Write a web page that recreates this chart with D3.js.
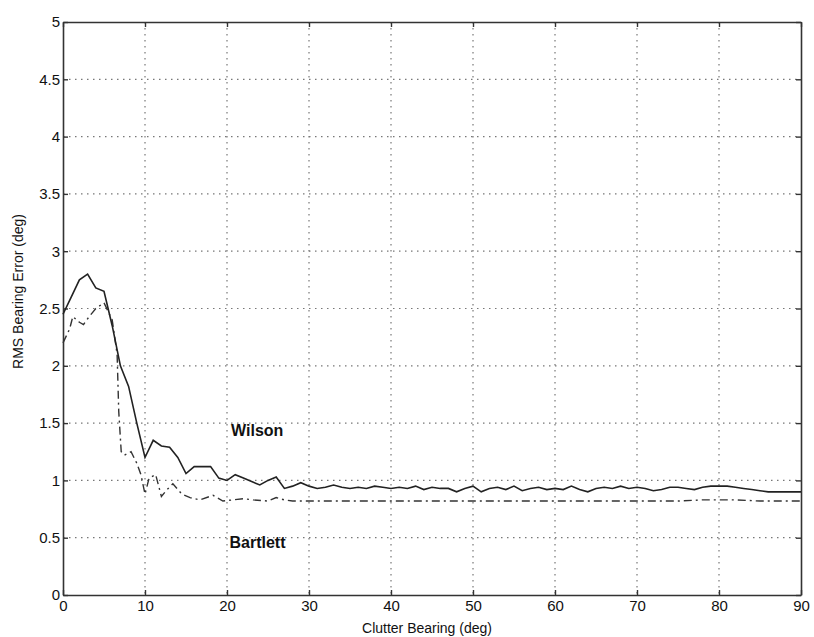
<!DOCTYPE html>
<html>
<head>
<meta charset="utf-8">
<script src="https://cdn.jsdelivr.net/npm/d3@7"></script>
<style>
  body { margin: 0; background: #fff; }
  #chart { width: 814px; height: 637px; }
  text { font-family: "Liberation Sans", Arial, sans-serif; fill: #111; }
</style>
</head>
<body>
<div id="chart"></div>
<script>
// values
const xTicks = [0, 10, 20, 30, 40, 50, 60, 70, 80, 90];
const yTicks = [0, 0.5, 1, 1.5, 2, 2.5, 3, 3.5, 4, 4.5, 5];

const wilsonBearing = [0, 1, 2, 3, 4, 5, 6, 7, 8, 9, 10, 11, 12, 13, 14, 15, 16, 17, 18, 19,
  20, 21, 22, 23, 24, 25, 26, 27, 28, 29, 30, 31, 32, 33, 34, 35, 36, 37, 38, 39,
  40, 41, 42, 43, 44, 45, 46, 47, 48, 49, 50, 51, 52, 53, 54, 55, 56, 57, 58, 59,
  60, 61, 62, 63, 64, 65, 66, 67, 68, 69, 70, 71, 72, 73, 74, 75, 76, 77, 78, 79,
  80, 81, 82, 83, 84, 85, 86, 87, 88, 89, 90];
const wilsonError = [2.45, 2.6, 2.75, 2.8, 2.68, 2.65, 2.35, 2.0, 1.82, 1.5,
  1.2, 1.35, 1.3, 1.29, 1.2, 1.06, 1.12, 1.12, 1.12, 1.02,
  1.0, 1.05, 1.02, 0.99, 0.96, 1.0, 1.03, 0.93, 0.95, 0.98,
  0.95, 0.93, 0.94, 0.96, 0.94, 0.93, 0.94, 0.93, 0.95, 0.94,
  0.93, 0.94, 0.93, 0.95, 0.92, 0.94, 0.93, 0.93, 0.9, 0.93,
  0.95, 0.9, 0.93, 0.94, 0.92, 0.95, 0.91, 0.93, 0.94, 0.92,
  0.93, 0.92, 0.95, 0.92, 0.9, 0.93, 0.94, 0.93, 0.95, 0.93,
  0.94, 0.93, 0.91, 0.92, 0.94, 0.94, 0.93, 0.92, 0.94, 0.95,
  0.95, 0.95, 0.94, 0.93, 0.92, 0.91, 0.9, 0.9, 0.9, 0.9, 0.9];

const bartlettBearing = [0, 0.8, 1.2, 2, 2.5, 3.2, 4, 5, 6, 6.6, 6.8, 7.1, 7.5, 8.3, 9, 9.5,
  10, 10.5, 11.3, 12, 12.7, 13.4, 14.5, 15.5, 16.7, 18.3, 19.5, 20.7, 22, 23.2, 25, 26, 27, 28,
  30, 35, 40, 45, 50, 55, 60, 65, 70, 75, 78, 80, 82, 85, 90];
const bartlettError = [2.2, 2.32, 2.43, 2.38, 2.36, 2.43, 2.5, 2.55, 2.4, 2.1, 1.6, 1.25, 1.22, 1.25, 1.15, 1.05,
  0.88, 1.02, 1.05, 0.86, 0.92, 0.97, 0.88, 0.85, 0.83, 0.87, 0.82, 0.83, 0.84, 0.83, 0.82, 0.85, 0.83, 0.82,
  0.82, 0.82, 0.82, 0.82, 0.82, 0.82, 0.82, 0.82, 0.82, 0.82, 0.83, 0.83, 0.83, 0.82, 0.82];

const width = 814, height = 637;
const margin = {top: 22, right: 13, bottom: 42, left: 63};
const innerW = width - margin.left - margin.right;
const innerH = height - margin.top - margin.bottom;

const svg = d3.select('#chart').append('svg')
  .attr('width', width)
  .attr('height', height);
const g = svg.append('g').attr('transform', `translate(${margin.left},${margin.top})`);

const x = d3.scaleLinear().domain([0, 90]).range([0, innerW]);
const y = d3.scaleLinear().domain([0, 5]).range([innerH, 0]);

// dotted grid
g.append('g').selectAll('line').data(xTicks.slice(1, -1)).join('line')
  .attr('x1', d => x(d)).attr('x2', d => x(d))
  .attr('y1', 0).attr('y2', innerH)
  .attr('stroke', '#777').attr('stroke-width', 1.2)
  .attr('stroke-dasharray', '1.5,4.5');
g.append('g').selectAll('line').data(yTicks.slice(1, -1)).join('line')
  .attr('y1', d => y(d)).attr('y2', d => y(d))
  .attr('x1', 0).attr('x2', innerW)
  .attr('stroke', '#777').attr('stroke-width', 1.2)
  .attr('stroke-dasharray', '1.5,4.5');

// axes, ticks pointing inward on all four sides
const styleAxis = sel => {
  sel.select('.domain').attr('stroke', '#333').attr('stroke-width', 1.6);
  sel.selectAll('.tick line').attr('stroke', '#333').attr('stroke-width', 1.4);
  sel.selectAll('.tick text').attr('font-size', 15).attr('fill', '#111');
};

g.append('g').attr('transform', `translate(0,${innerH})`)
  .call(d3.axisBottom(x).tickValues(xTicks).tickFormat(d3.format('d'))
    .tickSizeInner(-5).tickSizeOuter(0).tickPadding(5))
  .call(styleAxis);
g.append('g')
  .call(d3.axisLeft(y).tickValues(yTicks).tickFormat(d => d)
    .tickSizeInner(-5).tickSizeOuter(0).tickPadding(3))
  .call(styleAxis);
g.append('g')
  .call(d3.axisTop(x).tickValues(xTicks).tickFormat('')
    .tickSizeInner(-5).tickSizeOuter(0))
  .call(styleAxis);
g.append('g').attr('transform', `translate(${innerW},0)`)
  .call(d3.axisRight(y).tickValues(yTicks).tickFormat('')
    .tickSizeInner(-5).tickSizeOuter(0))
  .call(styleAxis);

// curves
const line = d3.line().x(d => x(d[0])).y(d => y(d[1]));

g.append('path')
  .datum(d3.zip(bartlettBearing, bartlettError))
  .attr('fill', 'none')
  .attr('stroke', '#333')
  .attr('stroke-width', 1.4)
  .attr('stroke-dasharray', '8,4,2,4')
  .attr('d', line);

g.append('path')
  .datum(d3.zip(wilsonBearing, wilsonError))
  .attr('fill', 'none')
  .attr('stroke', '#222')
  .attr('stroke-width', 1.6)
  .attr('d', line);

// curve labels
g.append('text')
  .attr('x', x(20.5)).attr('y', y(1.44))
  .attr('dy', '0.35em')
  .attr('font-size', 16).attr('font-weight', 'bold')
  .text('Wilson');
g.append('text')
  .attr('x', x(20.3)).attr('y', y(0.46))
  .attr('dy', '0.35em')
  .attr('font-size', 16).attr('font-weight', 'bold')
  .text('Bartlett');

// axis titles
svg.append('text')
  .attr('x', margin.left + innerW / 2 - 5)
  .attr('y', height - 4)
  .attr('text-anchor', 'middle')
  .attr('font-size', 14)
  .text('Clutter Bearing (deg)');
svg.append('text')
  .attr('transform', `translate(23,${margin.top + innerH / 2 - 17}) rotate(-90)`)
  .attr('text-anchor', 'middle')
  .attr('font-size', 14)
  .text('RMS Bearing Error (deg)');
</script>
</body>
</html>
